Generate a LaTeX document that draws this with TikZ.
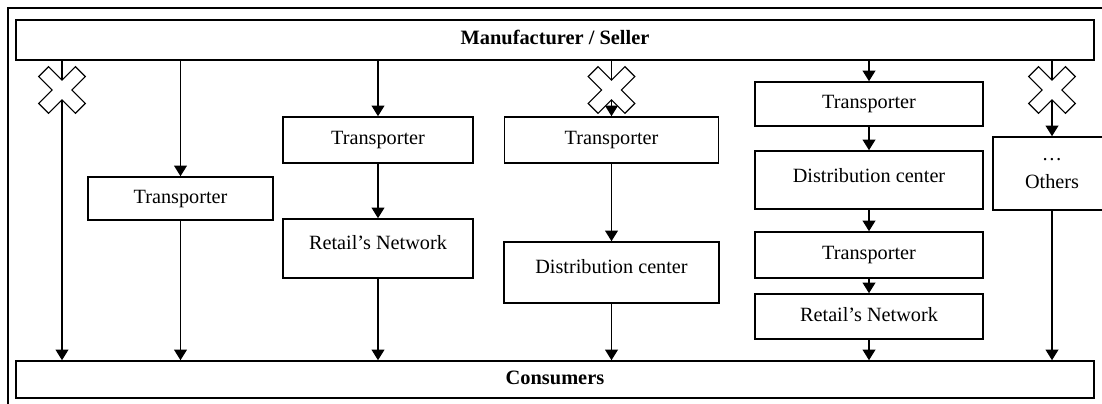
\documentclass[tikz,border=0pt]{standalone}
\usepackage{fontspec}
\setmainfont{Liberation Serif}
\usetikzlibrary{arrows.meta,positioning}

\begin{document}
\begin{tikzpicture}[
    x=0.025cm, y=-0.025cm,
    box/.style={draw, line width=1.1pt, align=center, inner sep=0pt, font=\fontsize{14.4}{18}\selectfont},
    block/.style={box, minimum width=5.7cm, minimum height=1.15cm, text height=10pt, text depth=3pt},
    bar/.style={block, minimum width=26.95cm, font=\fontsize{14.5}{18}\selectfont\bfseries},
    arr/.style={-{Triangle[length=7.5pt,width=9pt]}, line width=1.1pt},
    nogo/.pic={\draw[fill=white, line width=0.8pt, rotate=45]
      (26,7) -- (7,7) -- (7,26) -- (-7,26) -- (-7,7) -- (-26,7) -- (-26,-7)
      -- (-7,-7) -- (-7,-26) -- (7,-26) -- (7,-7) -- (26,-7) -- cycle;}
  ]
    \useasboundingbox (0,0) rectangle (1102,403);
    \clip (0,0) rectangle (1102,403);
    \draw[line width=2pt] (8,420) -- (8,8) -- (1120,8);

    \node[bar, minimum height=1.0cm]   (mfr)  at (555,40)    {Manufacturer / Seller};
    \node[bar, minimum height=0.925cm] (cons) at (555,379.5) {Consumers};

    \node[block, minimum width=4.625cm, minimum height=1.075cm] (tr2) at (180.5,198.5) {Transporter};

    \node[block, minimum width=4.75cm] (tr3) at (378,140) {Transporter};
    \node[block, minimum width=4.75cm, minimum height=1.475cm, text depth=8pt] (ret3) at (378,248.5) {Retail’s Network};

    \node[block, minimum width=5.35cm] (tr4) at (611.5,140) {Transporter};
    \node[block, minimum width=5.375cm, minimum height=1.525cm, text depth=8pt] (dc4) at (611.5,272.5) {Distribution center};

    \node[block, minimum height=1.1cm] (tr5a) at (869,104) {Transporter};
    \node[block, minimum height=1.45cm, text depth=6pt] (dc5) at (869,180) {Distribution center};
    \node[block] (tr5b) at (869,255) {Transporter};
    \node[block, minimum height=1.125cm] (ret5) at (869,316.5) {Retail’s Network};

    \node[box, minimum width=2.95cm, minimum height=1.825cm] (oth) at (1052,173.5) {\dots\\[2pt]Others};

    \coordinate (x1) at (62,90);

    \draw[arr] (mfr.south -| x1) -- (cons.north -| x1);
    \pic at (x1) {nogo};

    \draw[arr] (mfr.south -| tr2) -- (tr2);
    \draw[arr] (tr2) -- (cons.north -| tr2);

    \draw[arr] (mfr.south -| tr3) -- (tr3);
    \draw[arr] (tr3) -- (ret3);
    \draw[arr] (ret3) -- (cons.north -| ret3);

    \draw[arr] (mfr.south -| tr4) -- (tr4);
    \pic at (tr4 |- x1) {nogo};
    \draw[arr] (tr4) -- (dc4);
    \draw[arr] (dc4) -- (cons.north -| dc4);

    \draw[arr] (mfr.south -| tr5a) -- (tr5a);
    \draw[arr] (tr5a) -- (dc5);
    \draw[arr] (dc5) -- (tr5b);
    \draw[arr] (tr5b) -- (ret5);
    \draw[arr] (ret5) -- (cons.north -| ret5);

    \draw[arr] (mfr.south -| oth) -- (oth);
    \pic at (oth |- x1) {nogo};
    \draw[arr] (oth) -- (cons.north -| oth);
  \end{tikzpicture}
\end{document}
